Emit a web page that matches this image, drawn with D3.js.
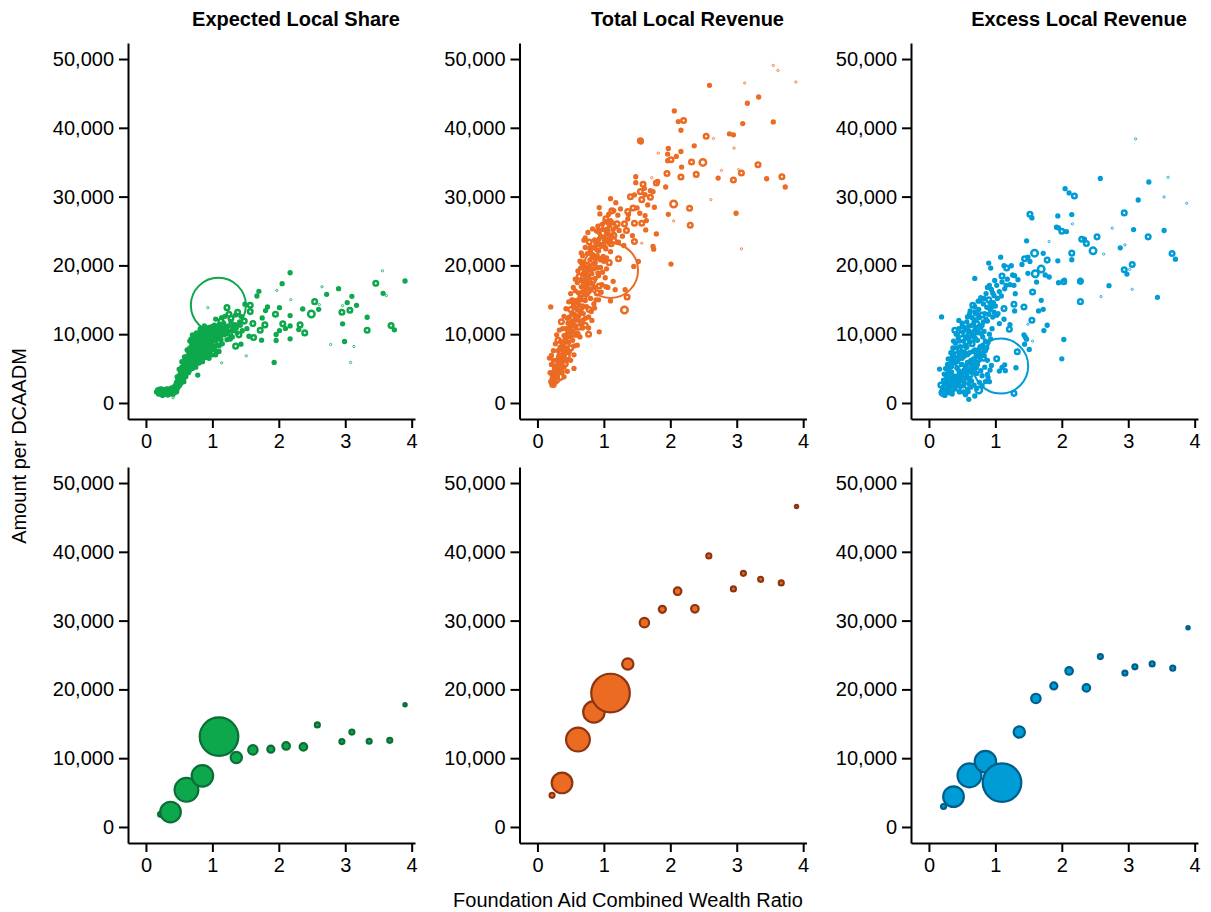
<!DOCTYPE html>
<html>
<head>
<meta charset="utf-8">
<script src="https://cdn.jsdelivr.net/npm/d3@7"></script>
<style>
  body { margin: 0; background: #fff; }
  svg { font-family: "Liberation Sans", Arial, Helvetica, sans-serif; }
</style>
</head>
<body>
<div id="chart"></div>
<script>
// ---- data ----
var panelTitles = ["Expected Local Share", "Total Local Revenue", "Excess Local Revenue"];
var xTicks = [0, 1, 2, 3, 4];
var yTicks = [0, 10000, 20000, 30000, 40000, 50000];
var xLabel = "Foundation Aid Combined Wealth Ratio";
var yLabel = "Amount per DCAADM";

var topColors = ["#0da84b", "#ec6b23", "#009cd6"];
var binFills = ["#0da84b", "#ec6b23", "#009cd6"];
var binStrokes = ["#0b6e36", "#8c3510", "#005e8a"];

// districts: [wealth ratio, amount per DCAADM, enrollment weight]
var expectedPts = [
  [2.17,18930,3],[2.05,17340,3],[1.70,16230,3],[1.97,16370,2],[1.67,15550,3],[2.18,15020,2],[2.65,16900,2],[2.72,15790,3],
  [2.90,16620,3],[3.10,15500,3],[3.56,19220,2],[3.46,17390,8],[3.90,17730,3],[3.57,15940,3],[3.62,15600,2],[3.03,14590,3],
  [2.96,14150,2],[3.07,13480,8],[3.17,14200,3],[2.61,14300,2],[2.54,14730,8],[2.60,13620,3],[2.36,13670,3],[2.49,12940,16],
  [2.95,13190,8],[3.33,12460,3],[2.96,11500,3],[3.33,10580,8],[3.69,11250,8],[3.74,10630,3],[2.99,8940,3],[2.78,8500,2],
  [3.13,8210,2],[3.08,5890,2],[1.93,5890,3],[1.51,6860,2],[2.17,9320,3],[1.96,9080,3],[1.96,9950,3],[2.01,10530,3],
  [2.06,11500,8],[2.17,11200,3],[2.10,10820,3],[2.30,10670,3],[2.39,10190,8],[2.32,11350,8],[2.17,12700,3],[2.01,13860,3],
  [1.95,12900,8],[1.80,13430,3],[1.83,13960,3],[1.75,12360,3],[1.79,11350,8],[1.72,10580,8],[1.74,9130,3],[1.62,9520,8],
  [1.61,11540,8],[1.57,14200,8],[1.49,14350,3],[1.22,13860,8],[0.93,13860,2],[1.57,13280,8],[1.43,12600,3],[1.41,11780,3],
  [1.28,12320,8],[1.14,12410,3],[1.14,5840,2],[1.35,8260,8],[1.43,8550,3],[0.78,4060,3],[0.41,770,2],[1.09,14200,1150],
  [0.16,1600,3],[0.18,1950,3],[0.19,1450,3],[0.20,1800,3],[0.22,1300,3],[0.23,1700,3],[0.24,2000,3],[0.25,1100,3],
  [0.26,1500,3],[0.27,1850,3],[0.28,1250,3],[0.29,1600,3],[0.30,2000,3],[0.31,1400,3],[0.32,1750,3],[0.33,1150,3],
  [0.34,1550,3],[0.35,1950,3],[0.36,1300,3],[0.37,1700,3],[0.38,2150,3],[0.39,1450,3],[0.40,1850,3],[0.41,1250,3],
  [0.42,2300,3],[0.43,1650,3],[0.44,2050,3],
  [0.45,2500,3],[0.46,3000,3],[0.47,2700,8],[0.48,3500,3],[0.49,2900,3],[0.50,4000,3],[0.51,3300,3],[0.52,4600,3],
  [0.53,3700,3],[0.54,5200,3],[0.55,4300,8],[0.56,3500,3],[0.57,5600,3],[0.58,4900,3],[0.59,6200,3],[0.60,4500,3],
  [0.50,4900,3],[0.53,2900,3],[0.47,3800,3],
  [0.61,5400,3],[0.62,6800,3],[0.63,5900,8],[0.64,7500,3],[0.65,6300,3],[0.66,8000,3],[0.67,5600,3],[0.68,7100,3],
  [0.69,8600,3],[0.70,6500,8],[0.71,7800,3],[0.72,9000,3],[0.73,6900,3],[0.74,8300,3],[0.75,7400,3],[0.76,9400,3],
  [0.77,6100,3],[0.78,8800,8],[0.79,7700,3],[0.80,9800,3],[0.62,4800,3],[0.66,6600,3],[0.70,7300,3],[0.74,9700,3],
  [0.78,6900,3],[0.58,5500,3],[0.64,6300,3],[0.72,5800,3],[0.68,9300,3],
  [0.81,8200,3],[0.82,7000,3],[0.83,9300,3],[0.84,10200,8],[0.85,7600,3],[0.86,8700,3],[0.87,9900,3],[0.88,7200,3],
  [0.89,10500,3],[0.90,8400,8],[0.91,9400,3],[0.92,7800,3],[0.93,10800,3],[0.94,8900,3],[0.95,9700,8],[0.96,7400,3],
  [0.97,10300,3],[0.98,8500,3],[0.99,11100,3],[1.00,9200,3],[1.02,10000,8],[1.03,8000,3],[1.04,10900,3],[1.05,9500,3],
  [1.06,7500,3],[1.08,10400,3],[1.09,8800,8],[1.10,11400,3],[0.84,8100,3],[0.88,9100,3],[0.92,9900,3],[0.96,8600,3],
  [1.00,10400,3],[0.86,6500,3],[0.94,7000,3],
  [1.12,9700,3],[1.14,10800,8],[1.15,8600,3],[1.17,11600,3],[1.18,9900,3],[1.20,10600,8],[1.22,9200,3],[1.24,11200,3],
  [1.26,10100,8],[1.28,11800,3],[1.30,9600,3],[1.32,10700,8],[1.34,11400,3],[1.37,10200,3],[1.40,9900,8],[1.42,11300,3],
  [1.45,10500,3],[1.48,11900,8],[1.52,10800,3],[1.55,9700,3],[1.13,11900,8],[1.19,12600,3],[1.25,12900,8],[1.35,12800,3],
  [1.05,12200,3],[1.38,13200,8],
  [0.46,2200,3],[0.48,2600,3],[0.50,3100,3],[0.52,3500,8],[0.54,3900,3],[0.56,4200,3],[0.58,4000,3],[0.60,5300,3],
  [0.62,5800,3],[0.64,5100,3],[0.66,7300,3],[0.68,6400,3],[0.70,8200,3],[0.72,7200,3],[0.74,6600,3],[0.76,8000,3],
  [0.78,9500,3],[0.80,7300,3],[0.82,8700,3],[0.84,9400,3],[0.86,10300,3],[0.88,8200,3],[0.90,9800,3],[0.92,8600,3],
  [0.94,10100,3],[0.96,9300,3],[0.98,10700,3],[1.00,8400,3],[1.02,9100,3],[1.04,9900,3],[1.06,10800,3],[1.08,9500,3],
  [0.57,4600,3],[0.61,6300,3],[0.65,7000,3],[0.69,7800,3],[0.73,7600,3],[0.77,8400,3],[0.81,9000,3],[0.85,8300,3],
  [0.89,9200,3],[0.93,9500,3],[0.97,9800,3],[1.01,10800,3],[0.55,5000,3],[0.59,5700,3],[0.63,6600,3],[0.67,6900,3],
  [0.71,8600,3],[0.75,8700,3],[0.79,8900,3],[0.83,7900,3],[0.87,8900,3],[0.91,10200,3],[0.95,11000,3],[0.99,9600,3],
  [1.03,11300,3],[1.07,8400,3],[1.11,10500,3],[1.16,10200,3],[1.21,11000,3],[1.27,9300,3],[1.31,11200,3],[1.36,10900,3],
  [0.49,3300,3],[0.51,2600,3],[0.44,2500,3],[0.42,1900,3],[0.38,1800,3],[0.35,1600,3],[0.30,1700,3],[0.26,1800,3],
  [0.21,1600,3],[0.17,1750,3],
  [0.55,3600,8],[0.60,5000,8],[0.65,5500,8],[0.68,7600,8],[0.73,8000,8],[0.76,6700,8],[0.80,8600,8],[0.83,10600,8],
  [0.87,7800,8],[0.91,8800,8],[0.97,9200,8],[1.01,7800,3],[1.04,8600,8],[1.07,9900,3],[1.10,8300,3],[1.13,9200,3],
  [1.16,11200,8],[1.19,10300,3],[1.23,10100,3],[1.29,10500,3],[0.45,1700,8],[0.40,2200,3],[0.33,1900,8],[0.27,1600,8],
  [0.22,1900,8],[0.19,1300,3],[0.36,1700,8],[0.48,2200,3],[0.52,3000,3],[0.57,3100,3],[0.60,3800,3],[0.64,4400,3],
  [0.68,5200,3],[0.71,6100,3],[0.75,5600,3],[0.79,6400,3],[0.83,7200,3],[0.87,7000,3],[0.91,7300,3],[0.95,8200,3],
  [0.99,8000,3],[0.70,9900,3],[0.76,10200,3],[0.82,10800,3],[0.88,11200,3],[0.66,9000,3],[0.62,7700,3],[0.58,6700,3],
  [0.54,6000,3],
  [0.70,5000,3],[0.75,5200,3],[0.80,5800,3],[0.85,6000,3],[0.90,6600,3],[0.95,6500,3],[1.00,7000,3],[1.05,7000,3],
  [1.10,7500,3],[0.65,4600,3],[0.60,4100,3],[0.55,3300,3],[0.50,2500,3]
];

var totalPts = [
  [3.55,49070,2],[3.62,48350,2],[3.89,46660,2],[2.59,46170,3],[3.12,46510,2],[3.33,44480,3],[3.16,43570,3],[3.55,40860,3],
  [3.09,40620,3],[2.06,42460,3],[2.12,40910,3],[2.20,41060,8],[2.16,39650,3],[1.55,38110,8],[1.56,37920,3],[2.54,38780,8],
  [2.65,38450,2],[2.89,39120,3],[2.95,38980,3],[2.36,37380,3],[2.96,37050,2],[1.97,37000,3],[1.82,36320,2],[1.96,36180,3],
  [2.09,35840,3],[2.16,36560,3],[2.01,35360,8],[1.96,35210,3],[2.32,35020,8],[2.49,34970,16],[2.17,34290,3],[3.32,34630,8],
  [2.77,33810,2],[3.03,33910,2],[3.07,33420,8],[1.95,33370,8],[2.16,32840,8],[2.39,33230,8],[2.72,32700,3],[2.95,32410,8],
  [3.45,32600,3],[3.68,32890,8],[3.73,31400,3],[1.48,32890,3],[1.72,32750,2],[1.48,32020,3],[1.79,31970,8],[1.81,32200,3],
  [1.59,31780,8],[1.93,31400,3],[1.61,31200,3],[1.40,29990,8],[1.46,30240,3],[1.55,30720,8],[1.70,30860,3],[1.74,30720,3],
  [1.57,29560,8],[1.70,29900,8],[1.62,30280,3],[1.10,29700,3],[1.18,29120,3],[1.66,28790,3],[1.76,28450,3],[2.05,28930,16],
  [2.29,28300,8],[2.61,29560,2],[0.93,28400,3],[0.94,27480,3],[1.12,27920,8],[1.15,27970,3],[1.25,28210,3],[1.44,28350,8],
  [1.50,28350,3],[1.36,27820,8],[1.54,27580,3],[1.37,27390,3],[1.62,27240,3],[1.97,27430,3],[2.99,27580,3],[2.05,26470,2],
  [2.30,25840,8],[1.64,26520,3],[1.63,25160,3],[1.79,24580,3],[1.03,26760,8],[1.10,26520,3],[1.06,26180,3],[1.20,26030,8],
  [1.31,26030,8],[1.36,26760,3],[1.46,26130,8],[1.57,26130,8],[0.91,25700,3],[0.92,25070,3],[1.05,25070,8],[1.14,25210,3],
  [1.23,25070,3],[1.34,25070,8],[0.70,23670,3],[0.93,23860,3],[1.04,24580,3],[1.15,24390,8],[1.28,24250,3],[1.43,24340,3],
  [1.46,23470,8],[1.01,23520,3],[1.11,23140,8],[1.22,23380,3],[0.79,22410,3],[0.91,22560,8],[1.02,22650,3],[1.30,22890,3],
  [1.74,22750,3],[1.57,23230,2],[3.07,22410,2],
  [2.01,20190,3],[1.75,22360,3],[1.52,20580,3],[1.31,13520,16],[1.35,15410,8],[1.32,16470,3],[1.17,16470,3],[1.14,17680,3],
  [1.22,20960,8],[1.45,19850,3],[1.10,14830,3],[0.93,10340,3],[0.77,10000,8],[0.20,13960,3],[0.18,6520,3],[0.31,9130,8],
  [0.23,3090,8],[0.34,3820,16],[0.25,2610,3],[0.55,5020,3],[0.53,14830,8],[0.67,20240,3],[1.10,19270,1150],
  [0.20,3100,3],[0.23,2700,8],[0.25,3500,3],[0.27,3000,3],[0.22,4100,3],[0.28,4400,3],[0.30,3700,3],[0.32,5000,3],
  [0.26,5400,3],[0.34,4600,3],[0.36,5800,3],[0.30,6300,3],[0.38,6600,3],[0.33,7000,3],[0.41,7200,3],[0.36,7800,3],
  [0.44,8000,3],[0.39,8500,3],[0.47,8800,3],[0.42,9300,3],[0.50,9600,3],[0.45,10100,3],[0.53,10400,3],[0.48,11000,3],
  [0.56,11300,3],[0.51,11800,3],[0.59,12100,3],[0.62,12600,3],[0.55,12900,3],[0.65,13300,3],[0.58,13800,3],[0.68,14100,3],
  [0.61,14600,3],[0.72,14900,3],[0.64,15400,3],[0.75,15800,3],[0.68,16200,3],[0.79,16500,3],[0.71,17000,3],[0.83,17300,3],
  [0.74,17800,3],[0.87,18100,3],[0.77,18600,3],[0.91,18900,3],[0.80,19400,3],[0.95,19700,3],[0.84,20200,3],[0.70,20500,3],
  [0.88,21000,3],[0.99,21300,3],[0.75,21700,3],[0.92,22100,3],[1.03,22400,3],[0.80,22700,3],[0.96,23000,3],[1.08,23300,3],
  [0.86,23700,3],[1.00,24100,3],[1.12,24400,3],[0.93,24800,3],[1.05,25300,3],[1.18,25600,3],[0.98,26000,3],
  [0.45,6800,8],[0.55,8300,3],[0.60,10000,8],[0.66,11500,3],[0.72,12300,3],[0.78,13600,8],[0.85,14400,3],[0.90,16000,8],
  [0.97,17200,3],[1.02,18200,3],[1.08,20400,8],[0.40,5200,3],[0.35,9000,3],[0.50,13600,8],[0.57,16300,3],[0.63,18400,8],
  [0.66,21800,3],[0.72,24000,3],[0.82,12000,3],[0.88,15000,3],[0.93,17000,8],[1.00,20600,3],[1.10,22000,3],[1.15,23600,8],
  [0.24,6200,3],[0.38,10800,3],[0.28,3400,16],[0.43,6100,3],[0.48,7400,3],[0.53,9100,3],[0.58,10900,3],[0.63,11900,3],
  [0.69,13000,3],[0.74,14000,3],[0.80,15200,3],[0.86,16800,3],[0.69,18800,3],[0.75,20000,8],[0.82,21400,3],[0.88,23200,3],
  [0.95,25600,8],[1.04,21100,3],[1.06,16800,3],[0.77,10900,3],[0.31,7600,3],[0.27,5100,8],[0.52,15000,3],[0.60,17500,3],
  [0.65,19600,3],[0.78,23400,8],
  [0.22,3500,3],[0.24,4500,3],[0.26,3900,3],[0.29,5000,3],[0.31,4300,3],[0.33,5600,3],[0.35,5200,3],[0.37,6200,3],
  [0.32,6800,3],[0.39,7300,3],[0.41,6500,3],[0.43,7600,3],[0.37,8700,3],[0.40,9800,3],[0.44,8900,3],[0.46,9600,3],
  [0.49,10400,3],[0.43,10800,3],[0.46,11600,3],[0.51,11100,3],[0.54,11900,3],[0.48,12500,3],[0.52,13000,3],[0.57,12700,3],
  [0.60,13500,3],[0.54,14100,3],[0.59,14900,3],[0.63,14200,3],[0.66,15000,3],[0.62,16000,3],[0.66,16900,3],[0.70,15700,3],
  [0.73,16600,3],[0.69,17600,3],[0.72,18300,3],[0.76,17300,3],[0.79,18000,3],[0.74,19200,3],[0.78,19900,3],[0.82,18800,3],
  [0.85,19500,3],[0.79,20800,3],[0.83,21600,3],[0.87,20400,3],[0.90,21400,3],[0.84,22600,3],[0.89,22300,3],[0.94,21000,3],
  [0.97,22800,3],[0.91,23500,3],[0.95,24300,3],[1.01,23400,3],[1.06,24600,3],[0.89,25000,3],[0.99,25200,3],[1.09,25800,3],
  [1.02,26400,3],[1.13,26200,3],[1.21,27300,3],[1.07,27400,3],[0.45,12300,3],[0.56,14500,3],[0.67,13800,3],[0.71,19800,3],
  [0.81,16600,3],[0.92,18500,3],[0.98,19000,3],[0.29,4000,3],[0.21,5600,3],[0.34,8100,3],
  [0.19,4400,3],[0.21,6900,3],[0.24,7600,3],[0.27,8600,3],[0.29,9900,3],[0.33,10600,3],[0.36,11800,8],[0.40,12600,3],
  [0.43,13700,3],[0.47,14700,3],[0.50,15900,3],[0.54,16800,3],[0.57,18000,3],[0.61,19200,3],[0.64,20600,3],[0.68,21400,3],
  [0.72,22600,3],[0.76,24800,3],[0.83,25300,3],[0.40,3800,3],[0.45,4600,3],[0.50,6200,3],[0.55,7000,3],[0.60,8400,3],
  [0.64,9600,3],[0.68,10900,3],[0.72,11300,8],[0.77,12500,3],[0.81,13300,3],[0.86,13800,3],[0.92,15000,3],[0.96,16100,3],
  [1.03,16900,3],[1.04,19500,3],[0.36,4500,8],[0.42,5700,8],[0.50,8000,8],[0.56,10000,8],[0.62,11000,8],[0.68,12000,3],
  [0.70,15300,8],[0.77,16300,8],[0.84,17800,8],[0.90,19700,3],[0.95,20800,3],[0.32,6000,8],[0.39,7800,8],[0.47,9800,3],
  [0.53,11900,3],[0.58,12300,8],[0.64,13000,3],[0.66,17800,3],[0.73,19000,3],[0.80,21800,3],[0.86,21200,8],[0.93,23100,3],
  [1.07,23900,3]
];

var excessPts = [
  [3.11,38400,2],[2.58,32650,3],[3.31,32120,3],[3.60,32800,2],[2.05,31150,3],[2.11,30530,3],[2.19,30090,8],[3.15,29510,3],
  [3.54,29950,2],[3.88,29030,2],[2.94,27630,8],[1.52,27430,8],[1.55,26900,3],[1.94,27190,3],[2.15,27390,3],[2.16,26030,2],
  [2.76,25410,2],[3.08,25210,3],[3.54,25070,3],[1.92,25550,3],[1.95,25450,3],[2.00,24970,8],[2.07,24920,3],[1.47,23570,3],
  [1.81,23470,2],[2.30,23810,8],[2.34,23810,3],[2.37,23180,8],[2.53,24150,8],[3.30,24150,8],[2.88,22560,3],[2.95,22990,2],
  [2.47,22120,16],[2.63,21640,2],[1.59,21780,16],[1.72,21740,3],[2.15,21780,8],[2.15,20820,3],[3.66,21740,8],[3.71,20910,3],
  [1.08,21200,3],[1.44,20960,8],[1.49,21200,3],[1.52,20580,3],[1.78,20770,8],[1.94,20670,3],[1.40,20140,3],[1.13,19950,3],
  [1.24,19950,3],[1.17,19610,8],[0.90,20330,3],[0.93,19610,3],[1.69,19460,16],[3.06,20140,8],[2.94,19370,8],[3.02,19420,2],
  [2.98,18740,3],[1.60,18790,16],[1.49,18840,3],[1.10,18450,8],[1.29,18500,3],[1.75,18600,3],[1.81,18310,3],[0.69,18110,3],
  [1.34,17920,3],[2.04,17870,3],[2.28,17870,3],
  [1.62,17580,3],[1.95,17480,3],[2.03,17630,8],[2.28,17680,8],[2.28,14730,8],[2.71,17050,3],[2.59,15460,2],[3.06,16520,2],
  [3.44,15360,3],[1.56,16130,8],[1.69,14920,3],[1.43,13960,8],[1.65,13380,3],[1.72,13620,3],[1.55,12030,8],[1.49,11450,2],
  [1.78,11300,3],[1.73,10530,3],[2.03,9230,3],[2.00,6420,3],[1.56,8980,2],[1.44,8550,3],[1.51,7780,3],[1.47,9270,3],
  [1.33,7440,8],[1.31,5120,3],[1.28,1400,8],[1.02,6420,8],[0.75,1880,16],[0.60,530,3],[1.14,5550,3],[1.10,5170,3],
  [1.15,4690,3],[1.06,4640,3],[0.94,5460,3],[0.92,4780,3],[0.89,3720,3],[0.88,4150,3],[0.80,3960,3],[0.91,3090,3],
  [0.69,1010,3],[0.16,4930,3],[0.21,1500,16],[0.32,1740,16],[0.55,1210,3],[0.59,1640,3],[0.19,12510,3],[0.39,10580,8],
  [0.50,11110,3],[0.69,13230,3],[0.77,14830,3],[0.91,17100,3],[1.09,15550,3],[1.16,17100,3],[1.28,17100,3],[1.30,15890,3],
  [1.21,10720,8],[1.13,12170,3],[1.06,11540,3],[1.22,11400,3],[1.29,13380,3],[1.28,14340,8],[1.13,13720,8],[1.02,12750,3],
  [1.45,9560,3],[1.43,9900,3],[1.08,5360,1150],
  [0.20,1700,3],[0.24,2200,8],[0.28,1500,3],[0.32,2600,3],[0.36,1900,3],[0.40,2900,3],[0.44,2100,8],[0.48,3300,3],
  [0.52,2500,3],[0.56,3600,3],[0.60,2800,3],[0.64,3200,3],[0.22,3300,3],[0.26,4000,3],[0.30,3500,8],[0.34,4500,3],
  [0.38,3900,3],[0.42,5100,3],[0.46,4300,3],[0.50,5600,3],[0.54,4700,8],[0.58,5900,3],[0.62,4900,3],[0.66,5300,3],
  [0.70,6000,3],[0.28,5600,3],[0.33,6300,3],[0.37,5800,3],[0.41,7000,8],[0.45,6400,3],[0.49,7500,3],[0.53,6800,3],
  [0.57,8100,3],[0.61,7300,3],[0.65,8600,8],[0.69,7700,3],[0.73,9100,3],[0.77,8200,3],[0.81,9600,3],[0.85,7600,3],
  [0.89,8800,3],[0.93,9300,3],[0.36,8000,3],[0.40,8700,3],[0.44,9400,3],[0.48,10000,8],[0.52,9000,3],[0.56,10600,3],
  [0.60,11200,3],[0.64,10200,3],[0.68,11800,3],[0.72,10800,8],[0.76,12400,3],[0.80,11300,3],[0.84,13000,3],[0.88,11900,3],
  [0.92,13600,3],[0.96,12500,3],[1.00,14100,3],[1.04,13000,3],[0.58,12500,3],[0.62,13400,3],[0.66,14200,8],[0.70,13000,3],
  [0.74,14800,3],[0.78,15300,3],[0.82,14400,3],[0.86,15900,3],[0.90,15000,8],[0.94,16500,3],[0.98,15600,3],[1.02,17100,3],
  [1.06,16200,3],[1.10,17600,3],[1.14,16600,3],[1.18,18000,3],[1.22,17200,3],[1.26,18600,3],[0.50,11600,3],[0.45,12000,3],
  [0.31,4200,3],[0.43,3600,3],[0.55,7200,3],[0.63,6200,3],[0.75,7000,3],[0.83,10400,3],[0.47,8200,3],[0.67,9900,3],
  [0.39,6100,3],[0.27,2900,3],[0.35,3200,3],[0.59,9600,3],[0.71,12100,3],[0.87,13900,3],[0.97,14600,3],[0.79,10100,3],
  [0.21,2300,3],[0.23,1400,3],[0.25,2800,3],[0.27,1900,3],[0.29,3000,3],[0.31,2200,3],[0.33,3600,3],[0.35,2500,3],
  [0.37,3300,3],[0.39,2100,3],[0.41,3900,3],[0.43,2700,3],[0.45,4700,3],[0.47,2400,3],[0.49,3800,3],[0.51,4400,3],
  [0.53,3000,3],[0.55,5300,3],[0.57,4000,3],[0.59,4600,3],[0.61,3500,3],[0.63,5600,3],[0.65,4400,3],[0.67,6400,3],
  [0.69,5000,3],[0.71,7000,3],[0.73,5600,3],[0.75,7800,3],[0.77,6400,3],[0.79,7200,3],[0.81,8400,3],[0.83,6900,3],
  [0.85,9000,3],[0.87,8000,3],[0.91,10000,3],[0.95,10800,3],[0.30,4700,3],[0.34,5300,3],[0.38,6800,3],[0.42,6000,3],
  [0.46,7200,3],[0.50,6500,3],[0.54,8300,3],[0.58,7000,3],[0.62,8900,3],[0.66,7500,3],[0.70,9400,3],[0.74,10200,3],
  [0.78,11000,3],[0.82,11800,3],[0.86,12200,3],[0.90,12900,3],[0.94,13900,3],[0.98,13200,3],[0.42,8000,3],[0.46,9000,3],
  [0.51,10300,3],[0.55,9600,3],[0.60,10500,3],[0.65,11300,3],[0.69,10600,3],[0.73,12900,3],[0.26,3400,3],[0.24,1100,3],
  [0.35,1300,3],[0.46,1600,3],[0.58,2000,3],[0.68,2600,3],[0.76,3000,3],[0.72,4300,3],[0.84,5200,3],
  [0.18,2600,8],[0.22,1800,8],[0.26,2400,8],[0.30,1900,8],[0.34,3100,8],[0.38,2400,8],[0.42,3400,8],[0.46,3500,8],
  [0.50,2900,8],[0.54,3900,8],[0.58,4900,8],[0.62,4100,8],[0.66,5900,8],[0.70,5200,8],[0.74,6300,8],[0.78,7700,8],
  [0.82,6500,8],[0.86,8500,8],[0.32,5500,8],[0.36,6600,8],[0.40,7600,8],[0.44,5600,8],[0.48,6700,8],[0.52,7900,8],
  [0.56,8900,8],[0.60,9800,8],[0.64,9200,8],[0.68,10200,8],[0.72,11500,8],[0.76,11000,8],[0.80,12800,8],[0.28,4300,3],
  [0.25,5000,3],[0.23,4200,3],[0.29,6400,3],[0.33,7300,3],[0.37,9000,3],[0.41,10000,3],[0.45,10800,3],[0.53,11000,3],
  [0.57,11800,3],[0.61,12900,3],[0.65,12400,3],[0.69,14000,3],[0.75,13600,3],[0.83,15200,3],[0.88,16800,3],[0.92,14500,3],
  [0.96,16000,3],[0.99,17800,3],[1.03,15200,3],[0.52,1600,3],[0.63,2300,3],[0.72,2100,3],[0.80,2500,3],[0.85,3100,3],
  [0.78,4700,3],[0.88,6200,3],[0.83,7900,3]
];

// binned averages: wealth ratio bin centre and total weight per bin
var binCWR = [0.22, 0.37, 0.61, 0.85, 1.10, 1.36, 1.61, 1.88, 2.11, 2.37, 2.58, 2.95, 3.10, 3.36, 3.67, 3.90];
var binWeight = [7, 120, 160, 130, 420, 36, 25, 14, 16, 16, 7, 7, 7, 7, 7, 3];
var binExpected = [1840, 2170, 5400, 7430, 13140, 10100, 11200, 11300, 11780, 11640, 14830, 12410, 13800, 12460, 12600, 17780];
var binTotal = [4600, 6400, 12700, 16720, 19470, 23700, 29700, 31640, 34270, 31720, 39400, 34600, 36870, 36000, 35480, 46600];
var binExcess = [2980, 4410, 7500, 9500, 6450, 13800, 18680, 20500, 22680, 20220, 24770, 22370, 23280, 23700, 23080, 28970];

// ---- layout ----
var width = 1211, height = 912;
var colStep = 391.5, firstLeft = 128, plotW = 287;
var rowTops = [43, 467], plotH = 376;

var svg = d3.select("#chart").append("svg")
  .attr("width", width)
  .attr("height", height);

var topData = [expectedPts, totalPts, excessPts];
var binData = [binExpected, binTotal, binExcess];

var rTop = d3.scaleSqrt().domain([0, 1150]).range([0, 27.5]);
var rBin = d3.scaleSqrt().domain([0, 420]).range([0, 19.3]);

function drawAxes(g, x, y) {
  var yAx = g.append("g")
    .attr("transform", "translate(" + x.range()[0] + ",0)")
    .call(d3.axisLeft(y).tickValues(yTicks).tickFormat(d3.format(",")).tickSize(9).tickSizeOuter(0).tickPadding(5));
  var xAx = g.append("g")
    .attr("transform", "translate(0," + y.range()[0] + ")")
    .call(d3.axisBottom(x).tickValues(xTicks).tickFormat(d3.format("d")).tickSize(9).tickSizeOuter(0).tickPadding(6));
  [xAx, yAx].forEach(function(ax) {
    ax.select(".domain").attr("stroke", "#000").attr("stroke-width", 2);
    ax.selectAll(".tick line").attr("stroke", "#000").attr("stroke-width", 2);
    ax.selectAll(".tick text")
      .attr("fill", "#000")
      .style("font-size", "20px")
      .style("font-family", '"Liberation Sans", Arial, sans-serif');
  });
}

for (var c = 0; c < 3; c++) {
  var colLeft = firstLeft + c * colStep;

  svg.append("text")
    .attr("x", colLeft + 168)
    .attr("y", 26)
    .attr("text-anchor", "middle")
    .style("font-size", "20px")
    .style("font-weight", "bold")
    .text(panelTitles[c]);

  for (var r = 0; r < 2; r++) {
    var rowTop = rowTops[r];
    var x = d3.scaleLinear().domain([-0.27, 4.05]).range([colLeft, colLeft + plotW]);
    var y = d3.scaleLinear().domain([-2330, 52330]).range([rowTop + plotH, rowTop]);
    var g = svg.append("g");

    drawAxes(g, x, y);

    if (r == 0) {
      g.append("g").selectAll("circle")
        .data(topData[c])
        .enter().append("circle")
          .attr("cx", function(d) { return x(d[0]); })
          .attr("cy", function(d) { return y(d[1]); })
          .attr("r", function(d) { return rTop(d[2]); })
          .attr("fill", "none")
          .attr("stroke", topColors[c])
          .attr("stroke-width", function(d) {
            var rr = rTop(d[2]);
            if (rr < 1.2) return 0.8;
            return rr > 10 ? 2 : 2.5;
          });
    } else {
      var vals = binData[c];
      var bins = binCWR.map(function(v, i) { return [v, vals[i], binWeight[i]]; });
      g.append("g").selectAll("circle")
        .data(bins)
        .enter().append("circle")
          .attr("cx", function(d) { return x(d[0]); })
          .attr("cy", function(d) { return y(d[1]); })
          .attr("r", function(d) { return rBin(d[2]); })
          .attr("fill", binFills[c])
          .attr("stroke", binStrokes[c])
          .attr("stroke-width", 2.2);
    }
  }
}

// axis titles
svg.append("text")
  .attr("x", 628)
  .attr("y", 907)
  .attr("text-anchor", "middle")
  .style("font-size", "20px")
  .text(xLabel);

svg.append("text")
  .attr("transform", "translate(26,446) rotate(-90)")
  .attr("text-anchor", "middle")
  .style("font-size", "20px")
  .text(yLabel);
</script>
</body>
</html>
